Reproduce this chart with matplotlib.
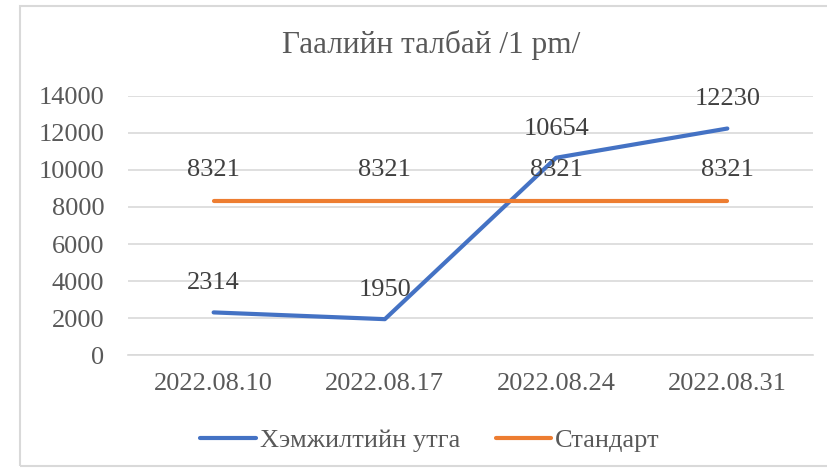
import matplotlib.pyplot as plt
import matplotlib.patches as patches

dates = ["2022.08.10", "2022.08.17", "2022.08.24", "2022.08.31"]
measured = [2314, 1950, 10654, 12230]
standard = [8321, 8321, 8321, 8321]

blue = "#4472C4"
orange = "#ED7D31"
text_col = "#595959"
grid_col = "#D9D9D9"

plt.rcParams['font.family'] = ['Liberation Serif', 'DejaVu Serif']

fig = plt.figure(figsize=(8.27, 4.71), dpi=100)
ax = fig.add_axes([0.1548, 0.2456, 0.983 - 0.1548, 0.7968 - 0.2456])

x = list(range(len(dates)))
ax.plot(x, measured, color=blue, linewidth=3, solid_capstyle='round', label="Хэмжилтийн утга", zorder=3)
ax.plot(x, standard, color=orange, linewidth=3, solid_capstyle='round', label="Стандарт", zorder=3)

for xi, v in zip(x, measured):
    ax.annotate(str(v), (xi, v), xytext=(0, 21), textcoords='offset points',
                ha='center', va='center', fontsize=19, color='#404040', zorder=4)
for xi, v in zip(x, standard):
    ax.annotate(str(v), (xi, v), xytext=(0, 22), textcoords='offset points',
                ha='center', va='center', fontsize=19, color='#404040', zorder=4)

ax.set_xlim(-0.5, len(dates) - 0.5)
ax.set_ylim(0, 14000)
ax.set_yticks(range(0, 14001, 2000))
ax.set_xticks(x)
ax.set_xticklabels(dates)
ax.tick_params(axis='both', length=0, labelsize=19, colors=text_col)
ax.tick_params(axis='x', pad=13)
ax.tick_params(axis='y', pad=17)
ax.grid(axis='y', color=grid_col, linewidth=1.2)
ax.set_axisbelow(True)
for s in ['top', 'right', 'left']:
    ax.spines[s].set_visible(False)
ax.spines['bottom'].set_color(grid_col)
ax.spines['bottom'].set_linewidth(1.2)

fig.text(431 / 827, 1 - 45 / 471, "Гаалийн талбай /1 pm/", ha='center', va='center',
         fontsize=22.5, color=text_col)

fig.legend(loc='center', bbox_to_anchor=(0.52, 1 - 440 / 471), ncol=2, frameon=False,
           fontsize=19, labelcolor=text_col, handlelength=2.1, handletextpad=0.15,
           columnspacing=1.35)

fig.patches.append(patches.Rectangle((20 / 827, 5 / 471), 1.2, 460 / 471,
                                     transform=fig.transFigure, fill=False,
                                     edgecolor=grid_col, linewidth=1.5))

fig.savefig("out.png", dpi=100)
